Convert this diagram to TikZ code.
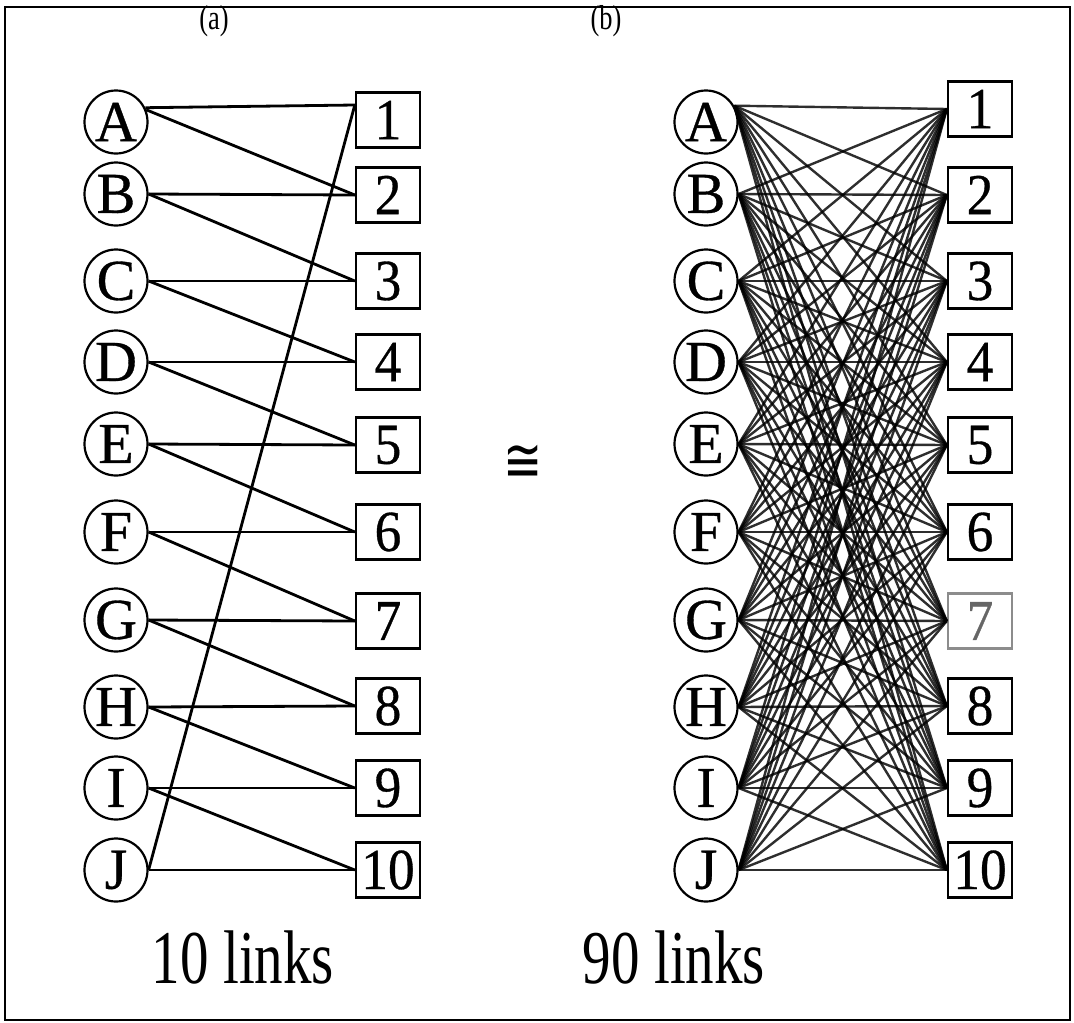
\documentclass[tikz,border=0pt]{standalone}
\usepackage{fontspec}
\setmainfont{Liberation Serif}
\newfontfamily\symfnt{DejaVu Sans}
\newfontfamily\thickfnt[FakeBold=0.6]{Liberation Serif}
\usepackage{graphicx}
\newcommand{\hsq}[2]{\scalebox{#1}[1]{#2}}
\begin{document}
\begin{tikzpicture}[x=1pt,y=-1pt,
  circ/.style={circle,draw,line width=2.2pt,minimum size=63pt,inner sep=0pt,font=\fontsize{58}{58}\thickfnt},
  boxn/.style={rectangle,draw,line width=2.4pt,minimum width=64pt,minimum height=55pt,inner sep=0pt,font=\fontsize{58}{58}\thickfnt},
  link/.style={line width=2.8pt},
  dense/.style={line width=2.4pt,draw opacity=0.82},
  lbl/.style={inner sep=0pt,font=\fontsize{33}{33}\selectfont},
  big/.style={inner sep=0pt,font=\fontsize{76}{76}\selectfont}
]
\useasboundingbox (0,0) rectangle (1074,1023);
\draw[line width=2.6pt] (5,7) rectangle (1070,1020);

\node[lbl] (lbla) at (214,21) {\scalebox{0.8}[1.05]{(a)}};
\node[lbl] (lblb) at (606,21) {\scalebox{0.8}[1.05]{(b)}};

% panel (a)
\foreach \n/\y in {A/122,B/194,C/281,D/362,E/444,F/532,G/620,H/707,I/788,J/870}
  \node[circ] (a\n) at (116,\y) {\n};
\foreach \n/\y in {1/120,2/195,3/281,4/362,5/445,6/532,7/621,8/706,9/788,10/870}
  \node[boxn] (a\n) at (388,\y) {\hsq{0.92}{\n}};

\draw[link] (aA.26) -- ([yshift=15pt]a1.west);
\draw[link] (aA.22) -- (a2.west);
\draw[link] (aB.east) -- (a2.west);
\draw[link] (aB.east) -- (a3.west);
\draw[link] (aC.east) -- (a3.west);
\draw[link] (aC.east) -- (a4.west);
\draw[link] (aD.east) -- (a4.west);
\draw[link] (aD.east) -- (a5.west);
\draw[link] (aE.east) -- (a5.west);
\draw[link] (aE.east) -- (a6.west);
\draw[link] (aF.east) -- (a6.west);
\draw[link] (aF.east) -- (a7.west);
\draw[link] (aG.east) -- (a7.west);
\draw[link] (aG.east) -- (a8.west);
\draw[link] (aH.east) -- (a8.west);
\draw[link] (aH.east) -- (a9.west);
\draw[link] (aI.east) -- (a9.west);
\draw[link] (aI.east) -- (a10.west);
\draw[link] (aJ.east) -- (a10.west);
\draw[link] (aJ.east) -- ([yshift=15pt]a1.west);

\node[big] (ta) at (243,957) {\hsq{0.75}{10 links}};

% congruence sign
\node[inner sep=0pt,font=\fontsize{36}{36}\symfnt] (cong) at (523,463) {\scalebox{1.3}[1.7]{≅}};

% panel (b)
\foreach \n/\y in {A/122,B/194,C/281,D/362,E/444,F/532,G/620,H/707,I/788,J/870}
  \node[circ] (b\n) at (706,\y) {\n};
\foreach \n/\y in {1/109,2/195,3/281,4/362,5/445,6/532,8/706,9/788,10/870}
  \node[boxn] (b\n) at (980,\y) {\hsq{0.92}{\n}};
\node[boxn,draw=black!45,text=black!60] (b7) at (980,621) {\hsq{0.92}{7}};

\coordinate (pA) at (bA.30);
\foreach \n in {B,C,D,E,F,G,H,I,J} \coordinate (p\n) at (b\n.east);
\foreach \l in {A,B,C,D,E,F,G,H,I,J}
  \foreach \r in {1,2,3,4,5,6,7,8,9,10}
    \draw[dense] (p\l) -- (b\r.west);

\node[big] (tb) at (674,957) {\hsq{0.75}{90 links}};
\end{tikzpicture}
\end{document}
